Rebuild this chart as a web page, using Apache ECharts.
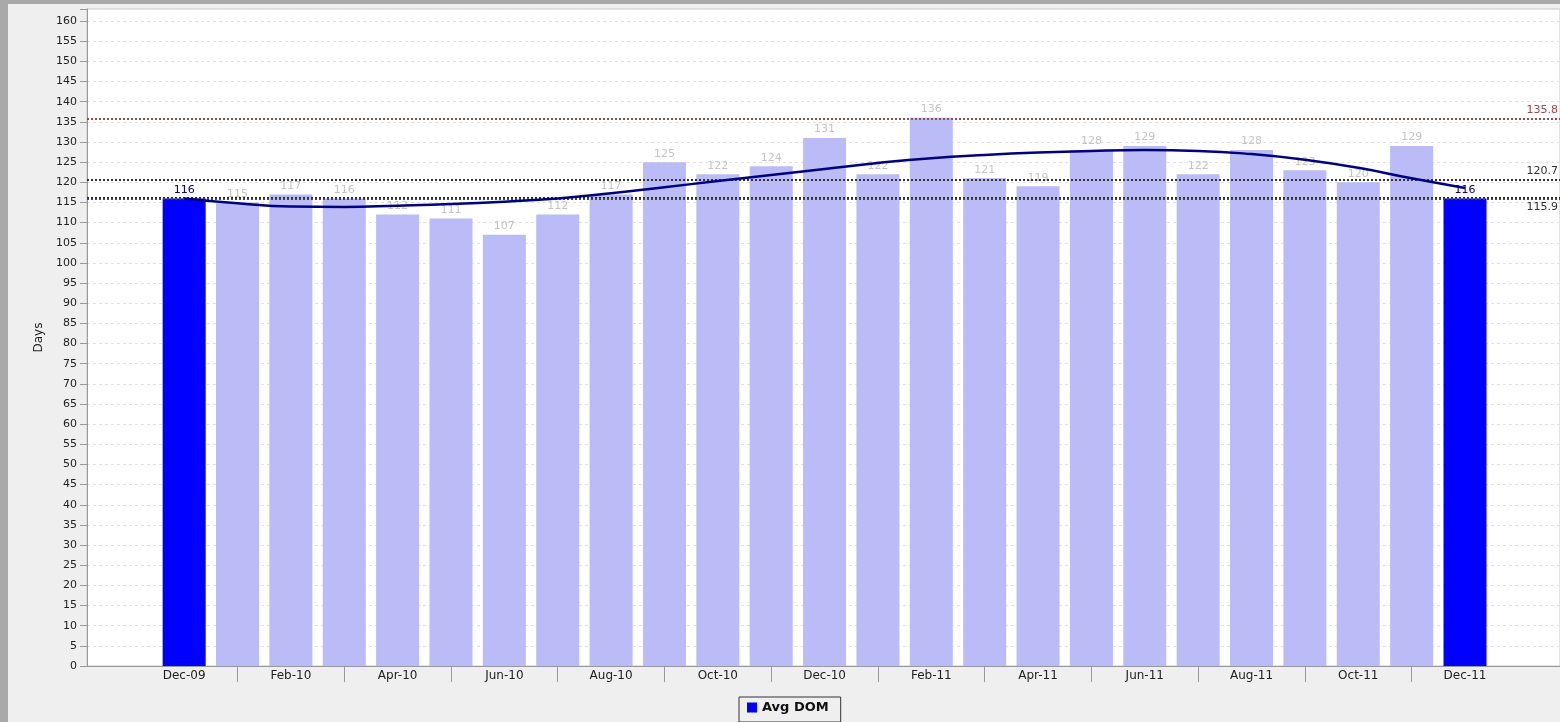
<!DOCTYPE html>
<html>
<head>
<meta charset="utf-8">
<title>Avg DOM</title>
<script src="https://cdn.jsdelivr.net/npm/echarts@6/dist/echarts.min.js"></script>
<style>
  html, body { margin: 0; padding: 0; background: #a9a9a9; overflow: hidden; }
  #chart { position: absolute; left: 8px; top: 4px; width: 1552px; height: 718px; }
</style>
</head>
<body>
<div id="chart"></div>
<script>
// months shown on the chart, Dec-09 .. Dec-11
var months = ['Dec-09','Jan-10','Feb-10','Mar-10','Apr-10','May-10','Jun-10','Jul-10','Aug-10','Sep-10','Oct-10','Nov-10','Dec-10',
              'Jan-11','Feb-11','Mar-11','Apr-11','May-11','Jun-11','Jul-11','Aug-11','Sep-11','Oct-11','Nov-11','Dec-11'];
// average days on market
var avgDom = [116,115,117,116,112,111,107,112,117,125,122,124,131,122,136,121,119,128,129,122,128,123,120,129,116];
// trend curve
var trend = [116.0,114.8,114.0,113.9,114.2,114.6,115.2,116.0,117.3,118.8,120.3,121.8,123.3,124.8,126.0,126.8,127.4,127.8,128.0,127.8,127.0,125.6,123.6,121.0,118.6];
// first and last month are highlighted
var highlight = [0, 24];
// reference lines
var maxLine = 135.8;
var avgLine = 120.7;
var startLine = 116.1;
var endLine = 115.9;

var chart = echarts.init(document.getElementById('chart'));

var labelIdx = [], tickIdx = [];
for (var i = 0; i < months.length; i++) {
	if (i % 2 == 0) labelIdx.push(i); else tickIdx.push(i);
}

var barData = avgDom.map(function(v, i) {
	var hi = highlight.indexOf(i) >= 0;
	return {
		value: [i, v],
		itemStyle: { color: hi ? '#0000ff' : '#bbbbf8' },
		label: { color: hi ? '#000080' : '#c4c4c4' }
	};
});
var trendData = trend.map(function(v, i) { return [i, v]; });

var dotted = function(color, w) {
	return { color: color, width: w, type: [2, 2], opacity: 1 };
};

var option = {
	backgroundColor: '#efefef',
	animation: false,
	textStyle: { fontFamily: 'DejaVu Sans, Verdana, sans-serif' },
	grid: {
		left: 79, right: 0, top: 5, bottom: 56,
		show: true, backgroundColor: '#ffffff',
		borderColor: '#c8c8c8', borderWidth: 1
	},
	legend: {
		data: ['Avg DOM'],
		left: 731, top: 693,
		orient: 'horizontal',
		borderColor: '#333', borderWidth: 1,
		padding: [4, 12, 8, 8],
		itemWidth: 10, itemHeight: 10, itemGap: 4,
		icon: 'rect',
		textStyle: { fontSize: 13, fontWeight: 'bold', color: '#111' }
	},
	xAxis: {
		type: 'value',
		min: -1.82, max: 25.78,
		splitLine: { show: false },
		axisLine: { onZero: false, lineStyle: { color: '#999' } },
		axisTick: {
			show: true, length: 16, inside: false,
			customValues: tickIdx,
			lineStyle: { color: '#999' }
		},
		axisLabel: {
			customValues: labelIdx,
			margin: 4,
			fontSize: 12, color: '#222',
			formatter: function(v) { return months[Math.round(v)] || ''; }
		}
	},
	yAxis: {
		type: 'value',
		min: 0, max: 163, interval: 5,
		name: 'Days',
		nameLocation: 'middle',
		nameGap: 42,
		nameTextStyle: { fontSize: 12, color: '#222' },
		axisLine: { show: true, onZero: false, lineStyle: { color: '#999' } },
		axisTick: { show: true, length: 7, lineStyle: { color: '#999' } },
		axisLabel: {
			fontSize: 11, color: '#222', margin: 10,
			formatter: function(v) { return v % 5 == 0 ? v : ''; }
		},
		splitLine: { lineStyle: { color: '#e2e2e2', type: [3, 3] } }
	},
	series: [
		{
			name: 'Avg DOM',
			type: 'bar',
			barWidth: 43,
			itemStyle: { color: '#0000ff' },
			data: barData,
			label: {
				show: true, position: 'top', distance: 3,
				fontSize: 11,
				formatter: function(p) { return p.value[1]; }
			},
			markLine: {
				silent: true,
				symbol: 'none',
				data: [
					{ yAxis: maxLine, lineStyle: dotted('#a04848', 2),
					  label: { formatter: String(maxLine), color: '#a04848' } },
					{ yAxis: avgLine, lineStyle: dotted('#333333', 2),
					  label: { formatter: String(avgLine), color: '#333' } },
					{ yAxis: startLine, lineStyle: dotted('#1a1a80', 2),
					  label: { show: false } },
					{ yAxis: endLine, lineStyle: dotted('#444444', 2),
					  label: { formatter: String(endLine), color: '#333', position: 'insideEndBottom' } }
				],
				label: {
					position: 'insideEndTop',
					fontSize: 11,
					distance: [2, 3]
				}
			}
		},
		{
			name: 'Trend',
			type: 'line',
			data: trendData,
			smooth: true,
			showSymbol: false,
			z: 5,
			lineStyle: { color: '#000080', width: 2.5 }
		}
	]
};

chart.setOption(option);
</script>
</body>
</html>
